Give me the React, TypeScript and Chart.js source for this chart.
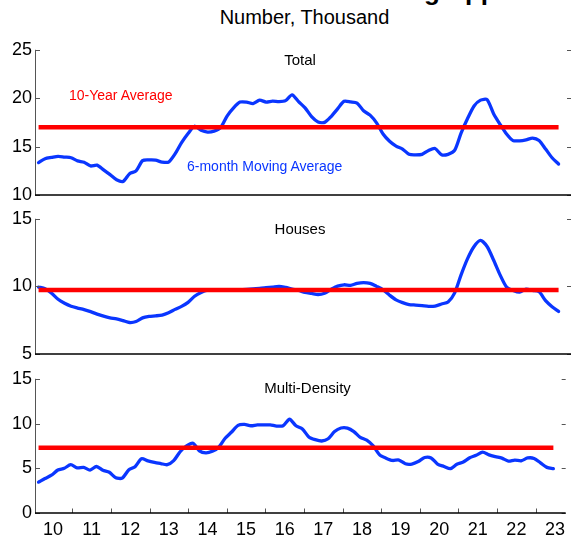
import React, { useEffect, useRef } from 'react';
import { Chart, registerables } from 'chart.js';

Chart.register(...registerables);

const FONT = "'Liberation Sans', Arial, Helvetica, sans-serif";
Chart.defaults.font.family = FONT;

// ---- data ----
const yearLabels = ['10', '11', '12', '13', '14', '15', '16', '17', '18', '19', '20', '21', '22', '23'];
const firstYear = 2010;
const sampleMonths = [2, 4, 6, 8, 10, 12]; // bimonthly readings
const lastYear = 2023;
const lastMonth = 6;

const dates: number[] = [];
for (let y = firstYear; y <= lastYear; y++) {
  for (const m of sampleMonths) {
    if (y === lastYear && m > lastMonth) break;
    dates.push(y + (m - 0.5) / 12);
  }
}

const totalValues = [
  13.35, 13.75, 13.88, 14.0, 13.92, 13.85,
  13.52, 13.38, 13.0, 13.08, 12.6, 12.1,
  11.57, 11.4, 12.2, 12.5, 13.55, 13.62,
  13.6, 13.4, 13.4, 14.25, 15.4, 16.35,
  17.1, 16.68, 16.5, 16.6, 16.95, 18.15,
  19.0, 19.6, 19.6, 19.45, 19.8, 19.6,
  19.7, 19.65, 19.75, 20.35, 19.65, 19.0,
  18.1, 17.55, 17.5, 18.1, 18.9, 19.68,
  19.62, 19.5, 18.7, 18.25, 17.45, 16.3,
  15.55, 15.05, 14.75, 14.2, 14.15, 14.2,
  14.6, 14.8, 14.15, 14.2, 14.6, 16.4,
  17.9, 19.2, 19.8, 19.85, 18.4, 17.3,
  16.3, 15.62, 15.6, 15.7, 15.88, 15.62,
  14.75, 13.85, 13.2,
];

const housesValues = [
  9.95, 9.83, 9.5, 9.05, 8.75, 8.53,
  8.4, 8.28, 8.13, 7.95, 7.8, 7.68,
  7.6, 7.47, 7.33, 7.4, 7.67, 7.78,
  7.82, 7.88, 8.05, 8.3, 8.52, 8.82,
  9.27, 9.55, 9.72, 9.75, 9.75, 9.75,
  9.75, 9.75, 9.78, 9.82, 9.85, 9.9,
  9.95, 10.0, 9.92, 9.8, 9.7, 9.55,
  9.48, 9.4, 9.5, 9.78, 10.02, 10.12,
  10.07, 10.22, 10.28, 10.22, 10.0, 9.75,
  9.35, 9.0, 8.8, 8.66, 8.62, 8.58,
  8.53, 8.55, 8.7, 8.85, 9.5, 10.85,
  12.05, 12.95, 13.4, 12.95, 11.95, 10.85,
  9.95, 9.7, 9.57, 9.8, 9.7, 9.6,
  8.95, 8.5, 8.15,
];

const multiValues = [
  3.45, 3.85, 4.22, 4.8, 5.0, 5.4,
  5.05, 5.1, 4.8, 5.2, 4.78, 4.55,
  3.94, 3.9, 4.8, 5.18, 6.06, 5.82,
  5.65, 5.52, 5.4, 5.85, 6.85, 7.5,
  7.8, 6.95, 6.72, 6.9, 7.35, 8.35,
  9.05, 9.8, 9.9, 9.75, 9.85, 9.85,
  9.85, 9.72, 9.75, 10.48, 9.75, 9.4,
  8.5, 8.2, 8.05, 8.3, 9.1, 9.5,
  9.49, 9.1, 8.45, 8.14, 7.5, 6.5,
  6.13, 5.87, 5.92, 5.5, 5.47, 5.75,
  6.2, 6.15, 5.47, 5.2, 4.95, 5.45,
  5.7, 6.18, 6.45, 6.8, 6.5, 6.3,
  6.13, 5.8, 5.92, 5.84, 6.15, 6.1,
  5.6, 5.1, 4.96,
];

const totalAverage = 17.0;
const housesAverage = 9.73;
const multiAverage = 7.3;

const X_MIN = 2010.059;
const X_MAX = 2023.777;

const BLUE = '#0a36ff';
const RED = '#ff0000';

const axesPlugin = {
  id: 'panelAxes',
  afterDatasetsDraw(chart: any, _args: any, opts: any) {
    const { ctx, chartArea: a, scales } = chart;
    const ys = scales.y;
    const xs = scales.x;
    ctx.save();
    ctx.strokeStyle = '#555';
    ctx.lineWidth = 1;
    ctx.beginPath();
    ctx.moveTo(a.left - 0.5, a.top);
    ctx.lineTo(a.left - 0.5, a.bottom);
    ys.ticks.forEach((t: any) => {
      const py = Math.round(ys.getPixelForValue(t.value)) + 0.5;
      ctx.moveTo(a.left - 1, py);
      ctx.lineTo(a.left + 4, py);
      ctx.moveTo(a.right - 4, py);
      ctx.lineTo(a.right, py);
    });
    if (opts && opts.xTicks) {
      for (let i = 1; i < yearLabels.length; i++) {
        const px = Math.round(xs.getPixelForValue(firstYear + i)) + 0.5;
        ctx.moveTo(px, a.bottom);
        ctx.lineTo(px, a.bottom - 4.5);
      }
    }
    ctx.stroke();
    ctx.strokeStyle = '#000';
    ctx.lineWidth = 1.5;
    ctx.beginPath();
    ctx.moveTo(a.left - 1, a.bottom);
    ctx.lineTo(a.right, a.bottom);
    ctx.stroke();
    ctx.restore();
  },
};

type PanelProps = {
  top: number;
  plotHeight: number;
  bottomExtra: number;
  values: number[];
  average: number;
  yMin: number;
  yMax: number;
  showX: boolean;
};

function Panel({ top, plotHeight, bottomExtra, values, average, yMin, yMax, showX }: PanelProps) {
  const ref = useRef<HTMLCanvasElement | null>(null);
  const padTop = 12;
  const height = padTop + plotHeight + bottomExtra;

  useEffect(() => {
    if (!ref.current) return;
    const series = dates.map((d, i) => ({ x: d, y: values[i] }));
    const avgLine = [
      { x: dates[0], y: average },
      { x: dates[dates.length - 1], y: average },
    ];
    const chart = new Chart(ref.current, {
      type: 'line',
      data: {
        datasets: [
          {
            data: avgLine,
            borderColor: RED,
            borderWidth: 4.5,
            pointRadius: 0,
            borderCapStyle: 'butt',
          },
          {
            data: series,
            borderColor: BLUE,
            borderWidth: 3.3,
            pointRadius: 0,
            tension: 0.25,
            borderJoinStyle: 'round',
            borderCapStyle: 'round',
          },
        ],
      },
      options: {
        responsive: false,
        animation: false,
        devicePixelRatio: 1,
        layout: { padding: { top: padTop, bottom: 0, left: 0, right: 0 } },
        plugins: {
          legend: { display: false },
          tooltip: { enabled: false },
          panelAxes: { xTicks: showX },
        } as any,
        scales: {
          x: {
            type: 'linear',
            min: X_MIN,
            max: X_MAX,
            display: true,
            afterBuildTicks: (s: any) => {
              s.ticks = yearLabels.map((_, i) => ({ value: firstYear + i + 0.5 }));
            },
            afterFit: (s: any) => {
              s.height = bottomExtra;
            },
            ticks: {
              display: showX,
              autoSkip: false,
              maxRotation: 0,
              minRotation: 0,
              padding: 6,
              color: '#000',
              font: { size: 18 },
              callback: (_v: any, i: number) => yearLabels[i],
            },
            grid: { display: false, drawTicks: false },
            border: { display: false },
          },
          y: {
            type: 'linear',
            min: yMin,
            max: yMax,
            afterFit: (s: any) => {
              s.width = 36;
            },
            ticks: {
              stepSize: 5,
              padding: 4,
              color: '#000',
              font: { size: 18 },
            },
            grid: { display: false, drawTicks: false },
            border: { display: false },
          },
        },
      } as any,
      plugins: [axesPlugin],
    });
    return () => chart.destroy();
  }, [values, average, yMin, yMax, showX, bottomExtra]);

  return (
    <canvas
      ref={ref}
      width={571}
      height={height}
      style={{ position: 'absolute', left: 0, top: top - padTop, width: 571, height, display: 'block' }}
    />
  );
}

const textBase: React.CSSProperties = {
  position: 'absolute',
  fontFamily: FONT,
  lineHeight: 1,
  whiteSpace: 'nowrap',
  margin: 0,
};

function Centered({ cx, top, size, color, bold, children }: any) {
  return (
    <div
      style={{
        ...textBase,
        left: cx - 150,
        width: 300,
        textAlign: 'center',
        top,
        fontSize: size,
        color: color || '#000',
        fontWeight: bold ? 700 : 400,
      }}
    >
      {children}
    </div>
  );
}

export default function App() {
  return (
    <div
      style={{
        position: 'fixed',
        left: 0,
        top: 0,
        width: 571,
        height: 539,
        background: '#fff',
        overflow: 'hidden',
      }}
    >
      <div style={{ ...textBase, left: 190, top: -22, fontSize: 26, fontWeight: 700, color: '#000' }}>
        Residential Building Approvals
      </div>
      <Centered cx={304.5} top={7} size={20}>Number, Thousand</Centered>

      <Panel top={47} plotHeight={148} bottomExtra={30} values={totalValues} average={totalAverage} yMin={10} yMax={25} showX={false} />
      <Panel top={216} plotHeight={138} bottomExtra={30} values={housesValues} average={housesAverage} yMin={5} yMax={15} showX={false} />
      <Panel top={376} plotHeight={137} bottomExtra={26} values={multiValues} average={multiAverage} yMin={0} yMax={15} showX={true} />

      <Centered cx={300} top={52} size={15}>Total</Centered>
      <Centered cx={300} top={221} size={15}>Houses</Centered>
      <Centered cx={307.5} top={380} size={15}>Multi-Density</Centered>

      <div style={{ ...textBase, left: 69, top: 87.5, fontSize: 14, color: RED }}>10-Year Average</div>
      <div style={{ ...textBase, left: 187, top: 158.5, fontSize: 14, color: BLUE }}>6-month Moving Average</div>
    </div>
  );
}
